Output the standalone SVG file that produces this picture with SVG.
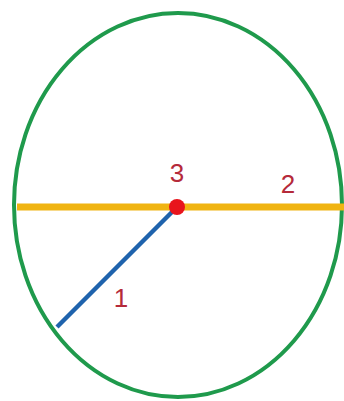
<svg xmlns="http://www.w3.org/2000/svg" width="344" height="401" viewBox="0 0 344 401">
<style>
.lbl{font-family:"Liberation Sans","DejaVu Sans",sans-serif;font-size:26px;fill:#b52a3a;text-anchor:middle}
</style>
<rect width="344" height="401" fill="#ffffff"/>
<g id="circle"><ellipse cx="178" cy="205" rx="164" ry="192" fill="none" stroke="#1f9a4c" stroke-width="4"/></g>
<g id="connectors">
<line id="diameter" x1="17" y1="207" x2="344" y2="207" stroke="#f0b412" stroke-width="7"/>
<line id="radius" x1="177" y1="207" x2="57" y2="327" stroke="#1f63ad" stroke-width="4.5"/>
</g>
<g id="center"><circle cx="177" cy="207" r="8" fill="#e8141c"/></g>
<g id="label1"><text class="lbl" x="121" y="307">1</text></g>
<g id="label2"><text class="lbl" x="288" y="193">2</text></g>
<g id="label3"><text class="lbl" x="177" y="182">3</text></g>
</svg>
